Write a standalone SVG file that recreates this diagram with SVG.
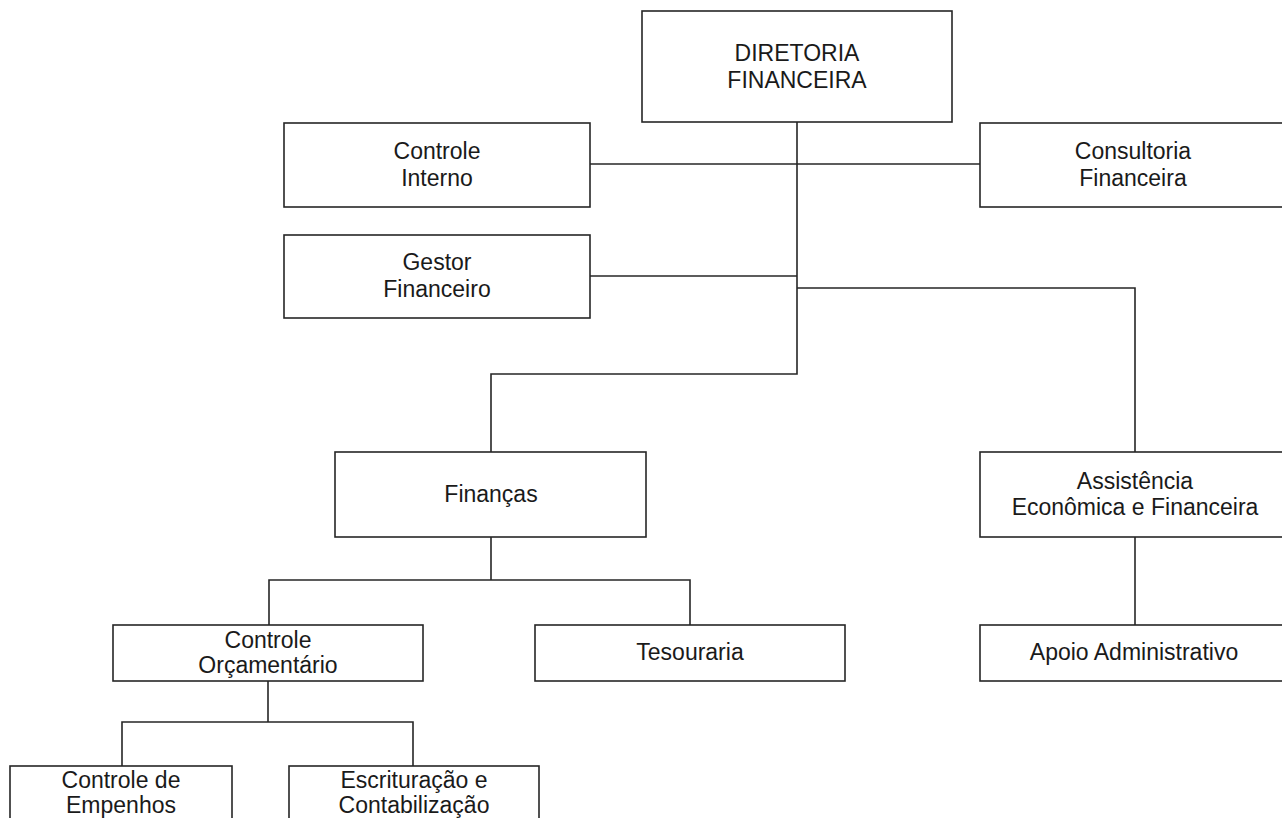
<svg xmlns="http://www.w3.org/2000/svg" width="1282" height="818" viewBox="0 0 1282 818">
<style>
rect.n{fill:#fff;stroke:#262626;stroke-width:1.6}
text{font-family:"Liberation Sans",Arial,sans-serif;font-size:23px;fill:#1a1a1a;text-anchor:middle}
.c{fill:none;stroke:#262626;stroke-width:1.6}
</style>
<rect width="1282" height="818" fill="#fff"/>
<g id="connectors">
<path class="c" d="M797 122V374H491V452"/>
<path class="c" d="M590 164H980"/>
<path class="c" d="M590 276H797"/>
<path class="c" d="M797 288H1135V452"/>
<path class="c" d="M491 537V580H269V625M269 580H690V625"/>
<path class="c" d="M1135 537V625"/>
<path class="c" d="M268 681V722H122V766M268 722H413V766"/>
</g>
<g id="diretoria"><rect class="n" x="642" y="11" width="310" height="111"/><text x="797" y="61">DIRETORIA</text><text x="797" y="88">FINANCEIRA</text></g>
<g id="controle-interno"><rect class="n" x="284" y="123" width="306" height="84"/><text x="437" y="159">Controle</text><text x="437" y="186">Interno</text></g>
<g id="consultoria"><rect class="n" x="980" y="123" width="310" height="84"/><text x="1133" y="159">Consultoria</text><text x="1133" y="186">Financeira</text></g>
<g id="gestor"><rect class="n" x="284" y="235" width="306" height="83"/><text x="437" y="270">Gestor</text><text x="437" y="297">Financeiro</text></g>
<g id="financas"><rect class="n" x="335" y="452" width="311" height="85"/><text x="491" y="502">Finanças</text></g>
<g id="assistencia"><rect class="n" x="980" y="452" width="310" height="85"/><text x="1135" y="489">Assistência</text><text x="1135" y="515">Econômica e Financeira</text></g>
<g id="controle-orcamentario"><rect class="n" x="113" y="625" width="310" height="56"/><text x="268" y="648">Controle</text><text x="268" y="673">Orçamentário</text></g>
<g id="tesouraria"><rect class="n" x="535" y="625" width="310" height="56"/><text x="690" y="660">Tesouraria</text></g>
<g id="apoio"><rect class="n" x="980" y="625" width="310" height="56"/><text x="1134" y="660">Apoio Administrativo</text></g>
<g id="empenhos"><rect class="n" x="10" y="766" width="222" height="70"/><text x="121" y="788">Controle de</text><text x="121" y="813">Empenhos</text></g>
<g id="escrituracao"><rect class="n" x="289" y="766" width="250" height="70"/><text x="414" y="788">Escrituração e</text><text x="414" y="813">Contabilização</text></g>
</svg>
